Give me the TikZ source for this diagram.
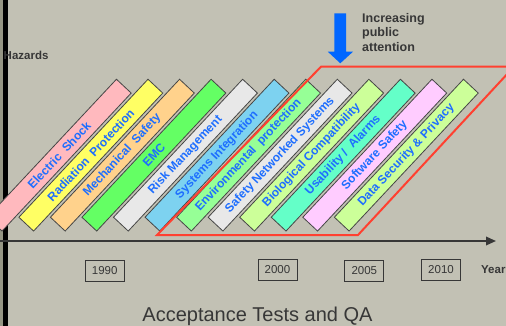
\documentclass[tikz,border=0pt]{standalone}
\usepackage{fontspec}
\setmainfont{Liberation Sans}
\usetikzlibrary{arrows.meta}

\definecolor{paper}{RGB}{194,193,180}
\definecolor{edgestrip}{RGB}{150,150,132}
\definecolor{inkgray}{RGB}{55,55,55}
\definecolor{bandedge}{RGB}{70,70,70}
\definecolor{bandtext}{RGB}{30,110,255}
\definecolor{framered}{RGB}{255,64,48}
\definecolor{arrowblue}{RGB}{0,102,255}
\definecolor{cPink}{RGB}{255,185,190}
\definecolor{cYellow}{RGB}{255,255,100}
\definecolor{cOrange}{RGB}{255,210,140}
\definecolor{cGreen}{RGB}{100,255,100}
\definecolor{cGray}{RGB}{232,232,232}
\definecolor{cSky}{RGB}{125,210,240}
\definecolor{cMint}{RGB}{150,255,150}
\definecolor{cLime}{RGB}{204,255,153}
\definecolor{cAqua}{RGB}{100,255,200}
\definecolor{cLilac}{RGB}{255,204,255}

\begin{document}
\begin{tikzpicture}[x=1pt,y=-1pt,
  band/.style={draw=bandedge, line width=0.8pt, rectangle,
    minimum width=189pt, minimum height=20.2pt, inner sep=0pt, rotate=46.9,
    font=\fontsize{12}{14}\selectfont\bfseries, text=bandtext},
  yearbox/.style={draw=inkgray, line width=0.7pt, rectangle,
    minimum width=39pt, minimum height=20.5pt, inner sep=0pt,
    font=\fontsize{11.5}{13}\selectfont, text=inkgray},
  heading/.style={font=\fontsize{11.5}{13}\selectfont\bfseries, text=inkgray, inner sep=0pt},
  timeaxis/.style={draw=inkgray, line width=1.8pt, -{Triangle[length=10pt,width=8.5pt]}},
  frame/.style={draw=framered, line width=2pt, line join=miter}]

\useasboundingbox (0,0) rectangle (506,326);
\clip (0,0) rectangle (506,326);

% background and left margin bar
\fill[paper] (0,0) rectangle (506,326);
\fill[edgestrip] (0,0) rectangle (2.7,326);
\fill[black] (2.7,0) rectangle (7.5,326);

% time axis
\coordinate (axstart) at (0,241);
\coordinate (axend) at (496,241);
\draw[timeaxis] (axstart) -- (axend);

% hazard bands, one per topic
\foreach \i/\c/\t in {
  0/cPink/{Electric\ \ Shock},
  1/cYellow/{Radiation\ \ Protection},
  2/cOrange/{Mechanical\ \ Safety},
  3/cGreen/{EMC},
  4/cGray/{Risk Management},
  5/cSky/{Systems Integration},
  6/cMint/{Environmental\ \ protection},
  7/cGray/{Safety Networked Systems},
  8/cLime/{Biological Compatibility},
  9/cAqua/{Usability /\ \ Alarms},
  10/cLilac/{Software Safety},
  11/cLime/{Data Security \& Privacy}}
  \node[band, fill=\c] (band\i) at ({59.25+31.55*\i},155.15) {\t};

% frame around the recent topics
\coordinate (fr1) at (157,235);
\coordinate (fr2) at (321,66.7);
\coordinate (fr3) at (514,66.7);
\coordinate (fr4) at (358,235);
\draw[frame] (fr1) -- (fr2) -- (fr3) -- (fr4) -- cycle;

% attention arrow and caption
\fill[arrowblue] (334.3,13.5) -- (346.2,13.5) -- (346.2,51.7) -- (353,51.7)
  -- (340.3,63.3) -- (327.8,51.7) -- (334.3,51.7) -- cycle;
\node[heading, font=\fontsize{12.5}{14.2}\selectfont\bfseries, align=left,
  anchor=north west] (attention) at (362,13.4) {Increasing\\public\\attention};

\node[heading, anchor=base west] (hazards) at (3.5,60) {Hazards};

% year markers
\node[yearbox] (y1990) at (104.7,270.9) {1990};
\node[yearbox] (y2000) at (277.5,269.8) {2000};
\node[yearbox] (y2005) at (364.3,271) {2005};
\node[yearbox] (y2010) at (441,269.8) {2010};
\node[heading, anchor=west] (years) at (481,270) {Year};

\node[inner sep=0pt, anchor=base, text=inkgray, font=\fontsize{20}{24}\selectfont]
  (title) at (257.5,321.7) {Acceptance Tests and QA};
\end{tikzpicture}
\end{document}
